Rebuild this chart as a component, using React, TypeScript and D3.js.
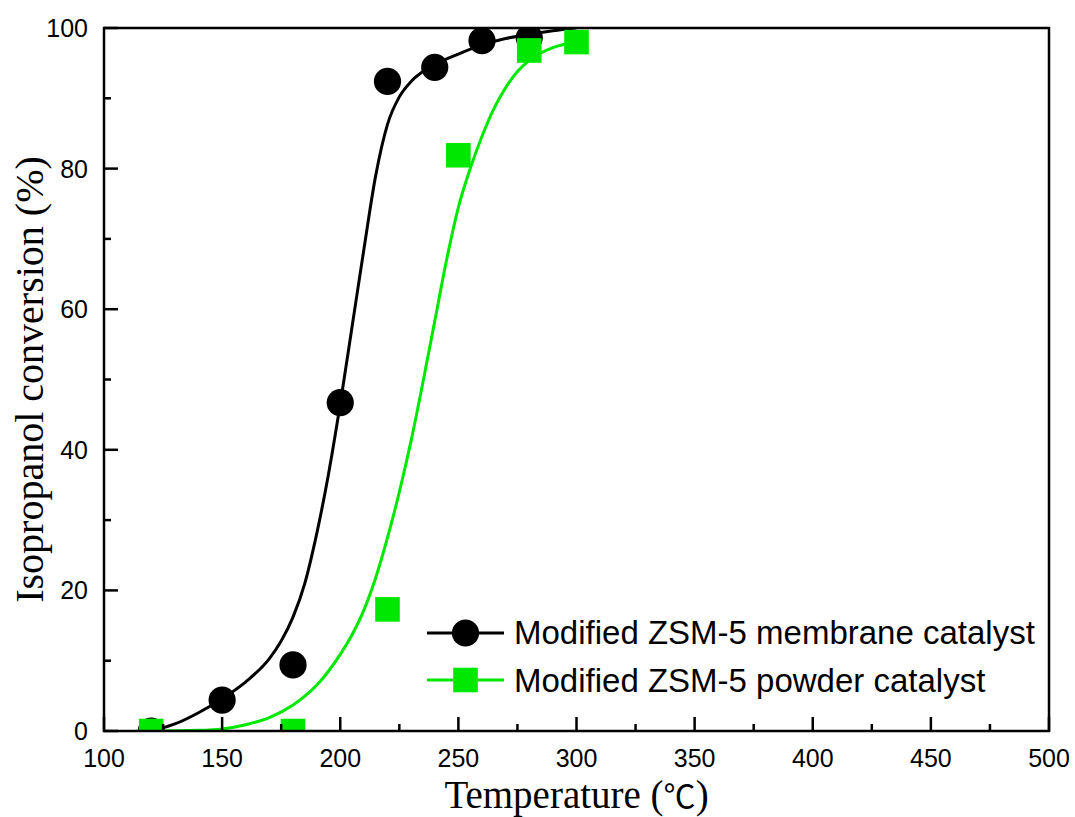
import React from "react";
import * as d3 from "d3";

const membraneT = [120, 150, 180, 200, 220, 240, 260, 280];
const membraneV = [0, 4.4, 9.4, 46.7, 92.4, 94.4, 98.2, 98.6];
const powderT = [120, 180, 220, 250, 280, 300];
const powderV = [0, 0, 17.3, 81.9, 96.8, 98.0];

const membraneFitT = [120, 130, 140, 150, 160, 170, 175, 180, 185, 190, 195, 200, 205, 210, 215, 220, 225, 230, 235, 240, 250, 260, 270, 280, 290, 300];
const membraneFitV = [0, 1.0, 2.6, 4.6, 7.0, 10.3, 12.8, 16.2, 21, 28, 36.5, 46.5, 57.5, 68.5, 79, 86.3, 90.2, 92.4, 93.8, 94.8, 96.3, 97.6, 98.5, 99.1, 99.6, 100];
const powderFitT = [120, 140, 150, 160, 170, 180, 190, 195, 200, 205, 210, 215, 220, 225, 230, 235, 240, 245, 250, 255, 260, 265, 270, 275, 280, 290, 300];
const powderFitV = [0, 0.1, 0.3, 0.9, 1.9, 3.7, 6.5, 8.5, 10.9, 13.7, 17.2, 21.8, 27.5, 34, 41.3, 49.6, 58.3, 67, 74.5, 80, 84.6, 88.5, 91.5, 93.8, 95.4, 97.2, 98];

const xMajor = [100, 150, 200, 250, 300, 350, 400, 450, 500];
const xMinor = [125, 175, 225, 275, 325, 375, 425, 475];
const yMajor = [0, 20, 40, 60, 80, 100];
const yMinor = [10, 30, 50, 70, 90];

const legendLabels = ["Modified ZSM-5 membrane catalyst", "Modified ZSM-5 powder catalyst"];
const xTitleMain = "Temperature (";
const xTitleUnit = "℃";
const xTitleEnd = ")";
const yTitle = "Isopropanol conversion (%)";

const W = 1075;
const H = 817;
const L = 104, R = 1049, T = 28, B = 731;
const GREEN = "#00e800";

export default function App() {
  const x = d3.scaleLinear().domain([100, 500]).range([L, R]);
  const y = d3.scaleLinear().domain([0, 100]).range([B, T]);
  const line = d3
    .line<[number, number]>()
    .x((d) => x(d[0]))
    .y((d) => y(d[1]))
    .curve(d3.curveMonotoneX);
  const memFit = line(membraneFitT.map((t, i) => [t, membraneFitV[i]] as [number, number])) || "";
  const powFit = line(powderFitT.map((t, i) => [t, powderFitV[i]] as [number, number])) || "";
  const sq = 24.6;
  const cr = 13.6;
  const tickFont = "Liberation Sans, Arial, sans-serif";
  const serif = "Liberation Serif, Times New Roman, serif";

  return (
    <svg width={W} height={H} style={{ position: "absolute", left: 0, top: 0, background: "#fff" }}>
      <defs>
        <clipPath id="plot">
          <rect x={L} y={T} width={R - L} height={B - T} />
        </clipPath>
      </defs>
      <rect x={0} y={0} width={W} height={H} fill="#fff" />
      <g clipPath="url(#plot)">
        <path d={memFit} fill="none" stroke="#000" strokeWidth={3} />
        {membraneT.map((t, i) => (
          <circle key={"c" + i} cx={x(t)} cy={y(membraneV[i])} r={cr} fill="#000" />
        ))}
        <path d={powFit} fill="none" stroke={GREEN} strokeWidth={3} />
        {powderT.map((t, i) => (
          <rect key={"s" + i} x={x(t) - sq / 2} y={y(powderV[i]) - sq / 2} width={sq} height={sq} fill={GREEN} />
        ))}
      </g>
      <g stroke="#000" strokeWidth={2.5}>
        {xMajor.map((v) => (
          <line key={"xM" + v} x1={x(v)} x2={x(v)} y1={B} y2={B - 14} />
        ))}
        {xMinor.map((v) => (
          <line key={"xm" + v} x1={x(v)} x2={x(v)} y1={B} y2={B - 7} />
        ))}
        {yMajor.map((v) => (
          <line key={"yM" + v} x1={L} x2={L + 14} y1={y(v)} y2={y(v)} />
        ))}
        {yMinor.map((v) => (
          <line key={"ym" + v} x1={L} x2={L + 7} y1={y(v)} y2={y(v)} />
        ))}
      </g>
      <rect x={L} y={T} width={R - L} height={B - T} fill="none" stroke="#000" strokeWidth={2.5} />
      {xMajor.map((v) => (
        <text key={"xl" + v} x={x(v)} y={767} textAnchor="middle" fontFamily={tickFont} fontSize={25} fill="#000">
          {v}
        </text>
      ))}
      {yMajor.map((v) => (
        <text key={"yl" + v} x={88} y={y(v) + 9} textAnchor="end" fontFamily={tickFont} fontSize={25} fill="#000">
          {v}
        </text>
      ))}
      <text x={(L + R) / 2} y={808} textAnchor="middle" fontFamily={serif} fontSize={39} fill="#000">
        {xTitleMain}
        <tspan fontFamily="Noto Sans CJK SC" fontSize={32}>{xTitleUnit}</tspan>
        {xTitleEnd}
      </text>
      <text
        transform={`translate(43,${(T + B) / 2}) rotate(-90)`}
        textAnchor="middle"
        fontFamily={serif}
        fontSize={40}
        fill="#000"
      >
        {yTitle}
      </text>
      <g>
        <line x1={427} x2={504} y1={633} y2={633} stroke="#000" strokeWidth={3} />
        <circle cx={465.5} cy={633} r={cr} fill="#000" />
        <text x={514} y={644} fontFamily={tickFont} fontSize={33} fill="#000">
          {legendLabels[0]}
        </text>
        <line x1={427} x2={504} y1={680} y2={680} stroke={GREEN} strokeWidth={3} />
        <rect x={465.5 - sq / 2} y={680 - sq / 2} width={sq} height={sq} fill={GREEN} />
        <text x={514} y={692} fontFamily={tickFont} fontSize={33} fill="#000">
          {legendLabels[1]}
        </text>
      </g>
    </svg>
  );
}
